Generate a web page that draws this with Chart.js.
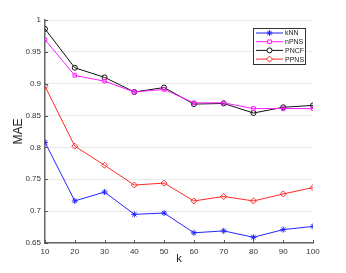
<!DOCTYPE html>
<html>
<head>
<meta charset="utf-8">
<script src="https://cdn.jsdelivr.net/npm/chart.js@4"></script>
<style>
  html, body { margin: 0; padding: 0; background: #fff; }
  #wrap { width: 346px; height: 273px; }
</style>
</head>
<body>
<div id="wrap"><canvas id="chart" width="346" height="273"></canvas></div>
<script>
// k values and MAE per method
const kValues = [10, 20, 30, 40, 50, 60, 70, 80, 90, 100];
const knn  = [0.808, 0.716, 0.730, 0.695, 0.697, 0.666, 0.669, 0.659, 0.671, 0.676];
const npns = [0.969, 0.913, 0.904, 0.887, 0.891, 0.870, 0.870, 0.861, 0.861, 0.861];
const pncf = [0.986, 0.925, 0.910, 0.887, 0.894, 0.868, 0.869, 0.854, 0.863, 0.866];
const ppns = [0.896, 0.802, 0.772, 0.741, 0.744, 0.716, 0.723, 0.716, 0.727, 0.737];
const yTicks = [0.65, 0.7, 0.75, 0.8, 0.85, 0.9, 0.95, 1];

const toPoints = arr => arr.map((v, i) => ({ x: kValues[i], y: v }));

function series(label, data, color, style, radius) {
  return {
    label: label,
    data: toPoints(data),
    borderColor: color,
    backgroundColor: 'rgba(0,0,0,0)',
    borderWidth: 1,
    pointStyle: style,
    pointRadius: radius,
    pointBorderColor: color,
    pointBackgroundColor: 'rgba(0,0,0,0)',
    pointBorderWidth: 1,
    tension: 0
  };
}

// inside tick marks on the axes
const tickMarks = {
  id: 'tickMarks',
  afterDatasetsDraw(chart) {
    const ctx = chart.ctx, a = chart.chartArea;
    const xs = chart.scales.x, ys = chart.scales.y;
    ctx.save();
    ctx.strokeStyle = '#555';
    ctx.lineWidth = 1;
    kValues.forEach(k => {
      const px = Math.round(xs.getPixelForValue(k)) + 0.5;
      ctx.beginPath(); ctx.moveTo(px, a.bottom); ctx.lineTo(px, a.bottom - 3); ctx.stroke();
    });
    yTicks.forEach(v => {
      const py = Math.round(ys.getPixelForValue(v)) + 0.5;
      ctx.beginPath(); ctx.moveTo(a.left, py); ctx.lineTo(a.left + 3, py); ctx.stroke();
    });
    ctx.restore();
  }
};

// legend box in upper right of the plot
const boxLegend = {
  id: 'boxLegend',
  afterDraw(chart) {
    const ctx = chart.ctx;
    const x0 = 253, y0 = 28, w = 52, h = 36;
    ctx.save();
    ctx.fillStyle = '#fff';
    ctx.fillRect(x0, y0, w, h);
    ctx.strokeStyle = '#333';
    ctx.lineWidth = 1;
    ctx.strokeRect(x0 + 0.5, y0 + 0.5, w, h);
    ctx.font = '7px "Liberation Sans", Arial, sans-serif';
    ctx.textBaseline = 'middle';
    chart.data.datasets.forEach((ds, i) => {
      const y = y0 + 5 + i * 8.7;
      ctx.strokeStyle = ds.borderColor;
      ctx.lineWidth = 1;
      ctx.beginPath(); ctx.moveTo(x0 + 3, y); ctx.lineTo(x0 + 30, y); ctx.stroke();
      ctx.fillStyle = '#fff';
      Chart.helpers.drawPoint(ctx, {
        pointStyle: ds.pointStyle, radius: ds.pointRadius, borderWidth: 1, rotation: 0
      }, x0 + 16.5, y);
      ctx.fillStyle = '#222';
      ctx.fillText(ds.label, x0 + 32, y + 0.5);
    });
    ctx.restore();
  }
};

new Chart(document.getElementById('chart'), {
  type: 'line',
  data: {
    datasets: [
      series('kNN', knn, '#2424ff', 'star', 3),
      series('nPNS', npns, '#ff1aff', 'rect', 2.5),
      series('PNCF', pncf, '#111111', 'circle', 2.5),
      series('PPNS', ppns, '#ff2a2a', 'rectRot', 3)
    ]
  },
  options: {
    responsive: false,
    animation: false,
    events: [],
    layout: { padding: { left: 0, top: 20, right: 33, bottom: 0 } },
    plugins: { legend: { display: false }, tooltip: { enabled: false } },
    scales: {
      x: {
        type: 'linear',
        min: 10, max: 100,
        afterFit: s => { s.height = 30; },
        afterBuildTicks: s => { s.ticks = kValues.map(v => ({ value: v })); },
        grid: { display: false, drawTicks: false },
        border: { display: true, color: '#666', width: 1.5 },
        ticks: { padding: 4, color: '#333', font: { size: 8, family: 'Liberation Sans' }, maxRotation: 0 },
        title: { display: true, text: 'k', color: '#222', padding: { top: 0, bottom: 7 }, font: { size: 11, family: 'Liberation Sans' } }
      },
      y: {
        min: 0.65, max: 1,
        afterFit: s => { s.width = 45; },
        afterBuildTicks: s => { s.ticks = yTicks.map(v => ({ value: v })); },
        grid: { color: '#e8e8e8', lineWidth: 1, drawTicks: false },
        border: { display: true, color: '#666', width: 1.5 },
        ticks: { padding: 4, color: '#333', font: { size: 8, family: 'Liberation Sans' },
          callback: v => String(Math.round(v * 100) / 100) },
        title: { display: true, text: 'MAE', color: '#222', padding: { top: 11, bottom: 0 }, font: { size: 12, family: 'Liberation Sans' } }
      }
    }
  },
  plugins: [tickMarks, boxLegend]
});
</script>
</body>
</html>
